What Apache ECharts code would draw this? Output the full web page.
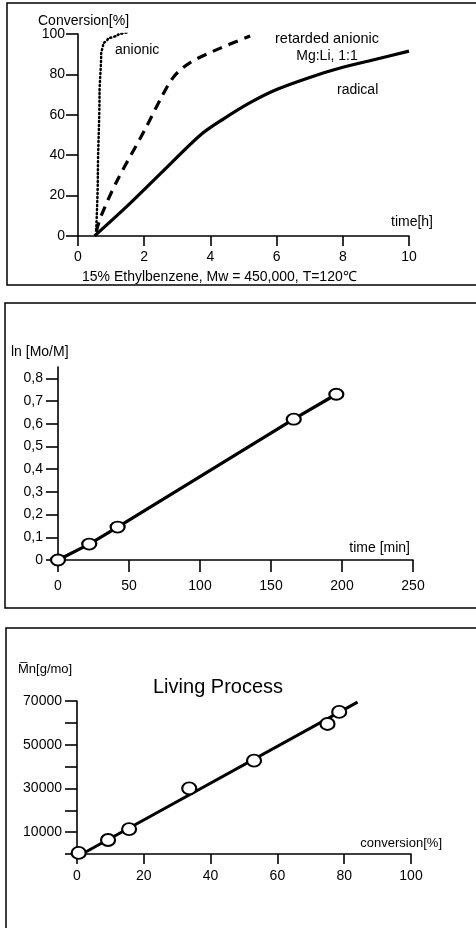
<!DOCTYPE html>
<html>
<head>
<meta charset="utf-8">
<script src="https://cdn.jsdelivr.net/npm/echarts@6/dist/echarts.min.js"></script>
<style>
html,body{margin:0;padding:0;background:#fff;}
#chart{width:476px;height:928px;}
</style>
</head>
<body>
<div id="chart"></div>
<script>
// ---- Panel 1: conversion vs time ----
const anionicT = [0.55, 0.6, 0.65, 0.7, 0.76, 0.9, 1.2, 1.55];
const anionicC = [3, 30, 70, 90, 95, 97.5, 99.5, 101];
const retardedT = [0.55, 0.7, 1.2, 2.0, 2.5, 2.9, 3.4, 4.3, 5.2];
const retardedC = [2, 10, 28, 52, 68, 79, 86, 93, 99];
const radicalT = [0.5, 1.5, 2.5, 3.7, 4.4, 5.2, 6.0, 7.0, 8.0, 9.0, 10];
const radicalC = [0, 15, 31, 50, 58, 66, 72.5, 78.5, 83.5, 87.5, 91.5];
const p1XTicks = [0, 2, 4, 6, 8, 10];
const p1YTicks = [0, 20, 40, 60, 80, 100];

// ---- Panel 2: ln(Mo/M) vs time ----
const kinT = [0, 22, 42, 166, 196];
const kinV = [0, 0.07, 0.145, 0.62, 0.73];
const p2XTicks = [0, 50, 100, 150, 200, 250];
const p2YTicks = [0, 0.1, 0.2, 0.3, 0.4, 0.5, 0.6, 0.7, 0.8];

// ---- Panel 3: Mn vs conversion ----
const mnConv = [0.5, 9.3, 15.6, 33.6, 53, 75, 78.5];
const mnVal = [500, 6400, 11400, 30000, 42700, 59500, 65000];
const fitConv = [1.5, 84];
const fitVal = [0, 69500];
const p3XTicks = [0, 20, 40, 60, 80, 100];
const p3YTicks = [0, 10000, 20000, 30000, 40000, 50000, 60000, 70000];
const p3YLabels = [10000, 30000, 50000, 70000];

const FONT = 'Liberation Sans';
const zip = (a, b) => a.map((v, i) => [v, b[i]]);
const lineCol = '#000';

function axisBase(extra) {
  return Object.assign({
    type: 'value',
    splitLine: { show: false },
    axisLine: { show: true, onZero: false, lineStyle: { color: lineCol, width: 1.6 } },
    axisTick: { show: true, inside: false, length: 11, lineStyle: { color: lineCol, width: 1.6 } },
    axisLabel: { color: '#000', fontFamily: FONT, fontSize: 14 }
  }, extra);
}

const chart = echarts.init(document.getElementById('chart'), null, { renderer: 'canvas' });

const option = {
  backgroundColor: '#fff',
  animation: false,
  grid: [
    { left: 78, right: 67, top: 34, bottom: 692 },
    { left: 58, right: 63, top: 367, bottom: 368 },
    { left: 77, right: 65, top: 701, bottom: 74 }
  ],
  xAxis: [
    axisBase({ gridIndex: 0, min: 0, max: 10, interval: 2,
      axisTick: { show: true, length: 10, lineStyle: { color: lineCol, width: 1.6 }, customValues: p1XTicks },
      axisLabel: { color: '#000', fontFamily: FONT, fontSize: 14, margin: 14, customValues: p1XTicks } }),
    axisBase({ gridIndex: 1, min: 0, max: 250, interval: 50,
      axisTick: { show: true, length: 12, lineStyle: { color: lineCol, width: 1.6 }, customValues: p2XTicks },
      axisLabel: { color: '#000', fontFamily: FONT, fontSize: 14, margin: 19, customValues: p2XTicks } }),
    axisBase({ gridIndex: 2, min: 0, max: 100, interval: 20,
      axisTick: { show: true, length: 10, lineStyle: { color: lineCol, width: 1.6 }, customValues: p3XTicks },
      axisLabel: { color: '#000', fontFamily: FONT, fontSize: 14, margin: 15, customValues: p3XTicks } })
  ],
  yAxis: [
    axisBase({ gridIndex: 0, min: 0, max: 100, interval: 20,
      axisTick: { show: true, length: 12, lineStyle: { color: lineCol, width: 1.6 }, customValues: p1YTicks },
      axisLabel: { color: '#000', fontFamily: FONT, fontSize: 14, margin: 13, customValues: p1YTicks } }),
    axisBase({ gridIndex: 1, min: 0, max: 0.85, interval: 0.1,
      axisTick: { show: true, length: 12, lineStyle: { color: lineCol, width: 1.6 }, customValues: p2YTicks },
      axisLabel: { color: '#000', fontFamily: FONT, fontSize: 14, margin: 15, customValues: p2YTicks,
        formatter: v => (Math.round(v * 10) / 10).toString().replace('.', ',') } }),
    axisBase({ gridIndex: 2, min: 0, max: 70000, interval: 10000,
      axisTick: { show: true, length: 12, lineStyle: { color: lineCol, width: 1.6 }, customValues: p3YTicks },
      axisLabel: { color: '#000', fontFamily: FONT, fontSize: 14, margin: 15, customValues: p3YLabels,
        formatter: v => String(Math.round(v)) } })
  ],
  series: [
    { type: 'line', xAxisIndex: 0, yAxisIndex: 0, data: zip(anionicT, anionicC), smooth: 0.3, smoothMonotone: 'y',
      showSymbol: false, symbol: 'none', lineStyle: { color: lineCol, width: 2.5, type: [1, 3], cap: 'round' } },
    { type: 'line', xAxisIndex: 0, yAxisIndex: 0, data: zip(retardedT, retardedC), smooth: 0.3,
      showSymbol: false, symbol: 'none', lineStyle: { color: lineCol, width: 3.2, type: [10, 7] } },
    { type: 'line', xAxisIndex: 0, yAxisIndex: 0, data: zip(radicalT, radicalC), smooth: 0.3,
      showSymbol: false, symbol: 'none', lineStyle: { color: lineCol, width: 3.2 } },
    { type: 'line', xAxisIndex: 1, yAxisIndex: 1, data: zip(kinT, kinV),
      symbol: 'circle', symbolSize: [14, 11],
      itemStyle: { color: '#fff', borderColor: lineCol, borderWidth: 2, opacity: 1 },
      lineStyle: { color: lineCol, width: 3.2 }, z: 3 },
    { type: 'line', xAxisIndex: 2, yAxisIndex: 2, data: zip(fitConv, fitVal),
      symbol: 'none', showSymbol: false, lineStyle: { color: lineCol, width: 3 } },
    { type: 'scatter', xAxisIndex: 2, yAxisIndex: 2, data: zip(mnConv, mnVal),
      symbol: 'circle', symbolSize: [14, 12],
      itemStyle: { color: '#fff', borderColor: lineCol, borderWidth: 2, opacity: 1 }, z: 4 }
  ],
  graphic: [
    { type: 'rect', shape: { x: 7, y: 3, width: 480, height: 282 }, style: { fill: null, stroke: '#000', lineWidth: 1.5 } },
    { type: 'rect', shape: { x: 5, y: 303, width: 480, height: 305 }, style: { fill: null, stroke: '#000', lineWidth: 1.5 } },
    { type: 'rect', shape: { x: 6, y: 628, width: 480, height: 320 }, style: { fill: null, stroke: '#000', lineWidth: 1.5 } },

    { type: 'text', style: { text: 'Conversion[%]', x: 38, y: 21, font: '14px "Liberation Sans"', fill: '#000', textVerticalAlign: 'middle' } },
    { type: 'text', style: { text: 'anionic', x: 115, y: 50, font: '14px "Liberation Sans"', fill: '#000', textVerticalAlign: 'middle' } },
    { type: 'text', style: { text: 'retarded anionic', x: 327, y: 39, font: '14.5px "Liberation Sans"', fill: '#000', textAlign: 'center', textVerticalAlign: 'middle' } },
    { type: 'text', style: { text: 'Mg:Li, 1:1', x: 327, y: 56, font: '14px "Liberation Sans"', fill: '#000', textAlign: 'center', textVerticalAlign: 'middle' } },
    { type: 'text', style: { text: 'radical', x: 337, y: 90, font: '14px "Liberation Sans"', fill: '#000', textVerticalAlign: 'middle' } },
    { type: 'text', style: { text: 'time[h]', x: 433, y: 222, font: '14px "Liberation Sans"', fill: '#000', textAlign: 'right', textVerticalAlign: 'middle' } },
    { type: 'text', style: { text: '15% Ethylbenzene, Mw = 450,000, T=120℃', x: 82, y: 277, font: '14px "Liberation Sans"', fill: '#000', textVerticalAlign: 'middle' } },

    { type: 'text', style: { text: 'ln [Mo/M]', x: 11, y: 352, font: '14px "Liberation Sans"', fill: '#000', textVerticalAlign: 'middle' } },
    { type: 'text', style: { text: 'time [min]', x: 410, y: 548, font: '14px "Liberation Sans"', fill: '#000', textAlign: 'right', textVerticalAlign: 'middle' } },

    { type: 'text', style: { text: 'M\u0305n[g/mo]', x: 18, y: 669, font: '13px "Liberation Sans"', fill: '#000', textVerticalAlign: 'middle' } },
    { type: 'text', style: { text: 'Living Process', x: 153, y: 687, font: '20px "Liberation Sans"', fill: '#000', textVerticalAlign: 'middle' } },
    { type: 'text', style: { text: 'conversion[%]', x: 442, y: 843, font: '13px "Liberation Sans"', fill: '#000', textAlign: 'right', textVerticalAlign: 'middle' } }
  ]
};
chart.setOption(option);
</script>
</body>
</html>
